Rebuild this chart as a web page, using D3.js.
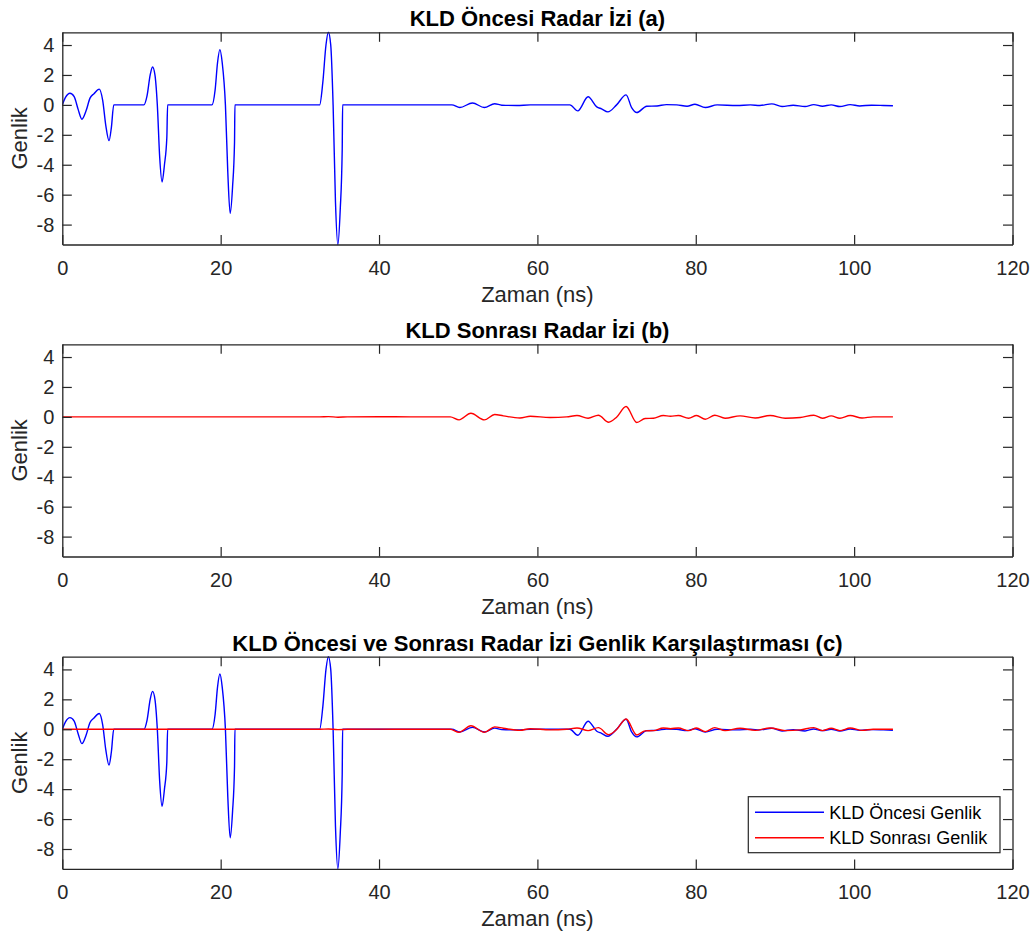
<!DOCTYPE html>
<html>
<head>
<meta charset="utf-8">
<script src="https://cdn.jsdelivr.net/npm/d3@7"></script>
<style>
  html, body { margin: 0; padding: 0; background: #ffffff; }
  svg { display: block; font-family: "Liberation Sans", Arial, Helvetica, sans-serif; }
</style>
</head>
<body>
<svg id="chart" width="1035" height="943"></svg>
<script>
// ---------------- DATA ----------------
const xTicks = [0, 20, 40, 60, 80, 100, 120];
const yTicks = [-8, -6, -4, -2, 0, 2, 4];
const xDomain = [0, 120];
const yDomain = [-9.33, 4.85];

const titles = [
  "KLD Öncesi Radar İzi (a)",
  "KLD Sonrası Radar İzi (b)",
  "KLD Öncesi ve Sonrası Radar İzi Genlik Karşılaştırması (c)"
];
const xLabel = "Zaman (ns)";
const yLabel = "Genlik";
const legendLabels = ["KLD Öncesi Genlik", "KLD Sonrası Genlik"];

// Before KLD (blue) - time (ns)
const beforeTime = [
  0, 0.4, 0.97, 1.5, 2.0, 2.48, 3.0, 3.5, 4.0, 4.67, 5.1, 5.5, 5.9, 6.2, 6.5,
  10.3, 10.7, 11.1, 11.4, 11.7, 12.0, 12.3, 12.6, 12.9, 13.2, 13.3,
  18.9, 19.3, 19.6, 19.9, 20.2, 20.6, 20.9, 21.2, 21.5, 21.75, 21.8,
  32.5, 32.9, 33.3, 33.6, 33.9, 34.2, 34.5, 34.8, 35.1, 35.35, 35.4,
  49.2, 50.2, 51.8, 53.3, 54.6, 55.5, 57.4, 59.1, 64.1,
  65.1, 66.4, 67.5, 68.1, 68.9, 70.0, 71.2, 71.9, 72.55, 73.8, 75.1, 76.3,
  77.6, 78.9, 79.9, 81.2, 82.7, 85.2, 86.9, 88.1, 89.6, 90.9, 92.3, 93.8,
  94.9, 96.0, 97.1, 98.2, 99.5, 100.7, 102.2, 103.7, 104.9
];
// Before KLD (blue) - amplitude
const beforeAmp = [
  0, 0.5, 0.78, 0.55, -0.3, -0.96, -0.4, 0.45, 0.75, 1.05, 0.3, -1.4, -2.39, -1.5, 0,
  0, 0.6, 2.0, 2.53, 2.0, 0, -3.5, -5.15, -4.0, -2.2, 0,
  0, 1.0, 2.8, 3.69, 2.8, 0, -4.5, -7.25, -5.5, -2.5, 0,
  0, 1.5, 4.0, 4.85, 4.0, 0, -6.5, -9.33, -7.0, -3.0, 0,
  0, -0.18, 0.13, -0.18, 0.08, -0.02, -0.04, 0, 0,
  -0.4, 0.54, -0.13, -0.27, -0.47, 0, 0.67, -0.18, -0.51, -0.09, -0.07, 0.02,
  0, -0.09, 0.04, -0.18, 0, -0.04, 0, -0.04, 0.07, -0.11, -0.02, -0.11,
  0.02, -0.09, 0, -0.11, 0.02, -0.07, -0.02, -0.04, -0.06
];

// After KLD (red) - time (ns)
const afterTime = [
  0, 32.5, 33.6, 34.8, 36.0, 40.0, 44.0, 49.0,
  50.1, 51.6, 53.3, 54.6, 55.7, 57.8, 59.1, 61.6, 63.7,
  65.0, 66.4, 67.7, 69.0, 70.0, 71.2, 72.55, 73.6, 74.65, 75.9, 76.8,
  77.8, 79.1, 80.1, 81.2, 82.4, 83.7, 85.6, 87.5, 89.4, 91.3, 93.2,
  94.9, 96.0, 97.1, 98.2, 99.5, 101.0, 102.4, 104.9
];
// After KLD (red) - amplitude
const afterAmp = [
  0, 0, 0.02, -0.02, 0, 0.01, 0, 0,
  -0.2, 0.24, -0.2, 0.16, 0.07, -0.07, 0.04, -0.04, 0,
  0.09, -0.09, 0.11, -0.36, -0.02, 0.69, -0.38, -0.11, -0.09, 0.09, 0.04,
  0.09, -0.09, 0.09, -0.16, 0.11, -0.09, 0.07, -0.07, 0.09, -0.09, -0.04,
  0.11, -0.09, 0.07, -0.09, 0.09, -0.07, 0, 0
];

const blueColor = "#0000ff";
const redColor = "#ff0000";

// ---------------- LAYOUT ----------------
const svg = d3.select("#chart");
const W = 1035;
const plotLeft = 62.3, plotRight = 1012.5;
const panelTops = [32.3, 344.3, 656.7];
const panelHeight = 212.2;
const axisColor = "#262626";
const tickLen = 9.5;

const x = d3.scaleLinear().domain(xDomain).range([plotLeft, plotRight]);

const beforeData = beforeTime.map((t, i) => ({ t, v: beforeAmp[i] }));
const afterData = afterTime.map((t, i) => ({ t, v: afterAmp[i] }));

const panelSeries = [
  [{ data: beforeData, color: blueColor }],
  [{ data: afterData, color: redColor }],
  [{ data: beforeData, color: blueColor }, { data: afterData, color: redColor }]
];

panelTops.forEach((top, pi) => {
  const bottom = top + panelHeight;
  const y = d3.scaleLinear().domain(yDomain).range([bottom, top]);
  const g = svg.append("g");

  // white plot background
  g.append("rect").attr("x", plotLeft).attr("y", top)
    .attr("width", plotRight - plotLeft).attr("height", panelHeight)
    .attr("fill", "#ffffff");

  // clip
  const clipId = "clip" + pi;
  svg.append("clipPath").attr("id", clipId).append("rect")
    .attr("x", plotLeft).attr("y", top - 1)
    .attr("width", plotRight - plotLeft).attr("height", panelHeight + 2);

  const line = d3.line().x(d => x(d.t)).y(d => y(d.v)).curve(d3.curveMonotoneX);
  panelSeries[pi].forEach(s => {
    g.append("path").datum(s.data)
      .attr("clip-path", `url(#${clipId})`)
      .attr("fill", "none").attr("stroke", s.color)
      .attr("stroke-width", 1.4).attr("stroke-linejoin", "round")
      .attr("d", line);
  });

  const fmt = d => String(d);
  // bottom axis
  const axB = g.append("g").attr("transform", `translate(0,${bottom})`)
    .call(d3.axisBottom(x).tickValues(xTicks).tickSizeInner(-tickLen).tickSizeOuter(0).tickPadding(15.8).tickFormat(fmt));
  // top axis
  const axT = g.append("g").attr("transform", `translate(0,${top})`)
    .call(d3.axisTop(x).tickValues(xTicks).tickSizeInner(-tickLen).tickSizeOuter(0).tickFormat(""));
  // left axis
  const axL = g.append("g").attr("transform", `translate(${plotLeft},0)`)
    .call(d3.axisLeft(y).tickValues(yTicks).tickSizeInner(-tickLen).tickSizeOuter(0).tickPadding(8).tickFormat(fmt));
  // right axis
  const axR = g.append("g").attr("transform", `translate(${plotRight},0)`)
    .call(d3.axisRight(y).tickValues(yTicks).tickSizeInner(-tickLen).tickSizeOuter(0).tickFormat(""));

  [axB, axT, axL, axR].forEach(a => {
    a.selectAll("path.domain").attr("stroke", axisColor).attr("stroke-width", 1.3);
    a.selectAll(".tick line").attr("stroke", axisColor).attr("stroke-width", 1.2);
    a.selectAll(".tick text").attr("fill", axisColor)
      .style("font-size", "20px").style("font-family", '"Liberation Sans", Arial, sans-serif');
  });
  // hide top/right tick at the ends overlapping the frame is fine

  // title
  g.append("text").attr("x", (plotLeft + plotRight) / 2).attr("y", top - 6)
    .attr("text-anchor", "middle").attr("font-weight", "bold")
    .attr("font-size", "22px").attr("fill", "#000000").text(titles[pi]);

  // x label
  g.append("text").attr("x", (plotLeft + plotRight) / 2).attr("y", bottom + 57)
    .attr("text-anchor", "middle").attr("font-size", "22px").attr("fill", axisColor).text(xLabel);

  // y label
  g.append("text").attr("transform", `translate(27,${(top + bottom) / 2}) rotate(-90)`)
    .attr("text-anchor", "middle").attr("font-size", "22px").attr("fill", axisColor).text(yLabel);

  // legend in panel 3
  if (pi === 2) {
    const lx = 748.3, ly = 796.7, lw = 251.7, lh = 56;
    const lg = g.append("g");
    lg.append("rect").attr("x", lx).attr("y", ly).attr("width", lw).attr("height", lh)
      .attr("fill", "#ffffff").attr("stroke", axisColor).attr("stroke-width", 1.2);
    const items = [
      { label: legendLabels[0], color: blueColor },
      { label: legendLabels[1], color: redColor }
    ];
    items.forEach((it, i) => {
      const cy = ly + 15.6 + i * 25.4;
      lg.append("line").attr("x1", lx + 6.7).attr("x2", lx + 75.7)
        .attr("y1", cy).attr("y2", cy)
        .attr("stroke", it.color).attr("stroke-width", 1.4);
      lg.append("text").attr("x", lx + 81).attr("y", cy + 6.4)
        .attr("font-size", "18px").attr("fill", "#000000").text(it.label);
    });
  }
});
</script>
</body>
</html>
